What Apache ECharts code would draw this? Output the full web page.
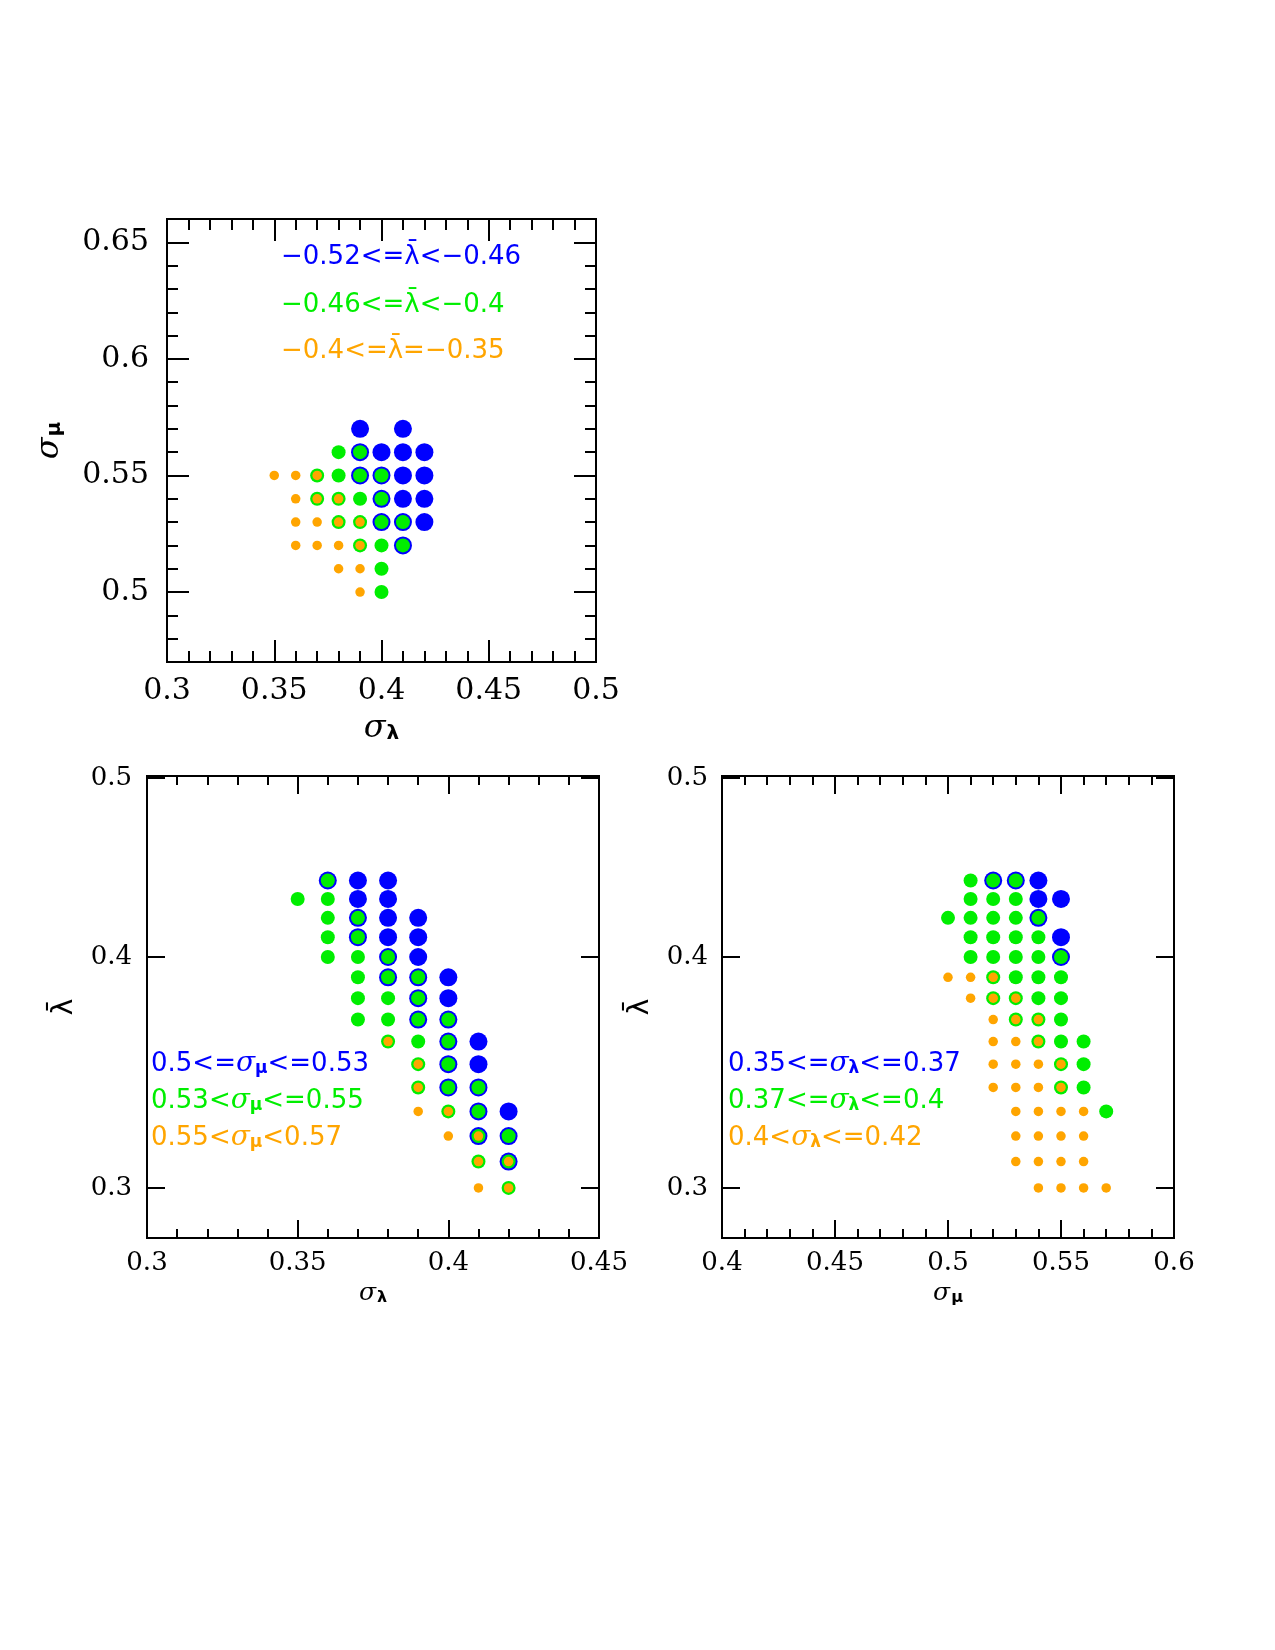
<!DOCTYPE html>
<html>
<head>
<meta charset="utf-8">
<title>sigma_lambda / sigma_mu / lambda-bar</title>
<script src="https://cdn.jsdelivr.net/npm/echarts@6.0.0/dist/echarts.min.js"></script>
<style>
  html, body { margin: 0; padding: 0; background: #fff; }
  #main { width: 1275px; height: 1650px; }
</style>
</head>
<body>
<div id="main"></div>
<script>
// group colours
const BLUE = "#0000ff";
const GREEN = "#00ee00";
const ORANGE = "#ffa500";

// ---- top panel: [sigma_lambda, sigma_mu], split by lambda-bar
const topBlue = [
  [0.39, 0.57], [0.41, 0.57],
  [0.39, 0.56], [0.40, 0.56], [0.41, 0.56], [0.42, 0.56],
  [0.39, 0.55], [0.40, 0.55], [0.41, 0.55], [0.42, 0.55],
  [0.40, 0.54], [0.41, 0.54], [0.42, 0.54],
  [0.40, 0.53], [0.41, 0.53], [0.42, 0.53],
  [0.41, 0.52],
];
const topGreen = [
  [0.38, 0.56], [0.39, 0.56],
  [0.37, 0.55], [0.38, 0.55], [0.39, 0.55], [0.40, 0.55],
  [0.37, 0.54], [0.38, 0.54], [0.39, 0.54], [0.40, 0.54],
  [0.38, 0.53], [0.39, 0.53], [0.40, 0.53], [0.41, 0.53],
  [0.39, 0.52], [0.40, 0.52], [0.41, 0.52],
  [0.40, 0.51],
  [0.40, 0.50],
];
const topOrange = [
  [0.35, 0.55], [0.36, 0.55], [0.37, 0.55],
  [0.36, 0.54], [0.37, 0.54], [0.38, 0.54],
  [0.36, 0.53], [0.37, 0.53], [0.38, 0.53], [0.39, 0.53],
  [0.36, 0.52], [0.37, 0.52], [0.38, 0.52], [0.39, 0.52],
  [0.38, 0.51], [0.39, 0.51],
  [0.39, 0.50],
];

// ---- bottom left: [sigma_lambda, lambda-bar], split by sigma_mu
const leftBlue = [
  [0.36, 0.44], [0.37, 0.44], [0.38, 0.44],
  [0.37, 0.43], [0.38, 0.43],
  [0.37, 0.42], [0.38, 0.42], [0.39, 0.42],
  [0.37, 0.41], [0.38, 0.41], [0.39, 0.41],
  [0.38, 0.40], [0.39, 0.40],
  [0.38, 0.39], [0.39, 0.39], [0.40, 0.39],
  [0.39, 0.38], [0.40, 0.38],
  [0.39, 0.37], [0.40, 0.37],
  [0.40, 0.36], [0.41, 0.36],
  [0.40, 0.35], [0.41, 0.35],
  [0.40, 0.34], [0.41, 0.34],
  [0.41, 0.33], [0.42, 0.33],
  [0.41, 0.32], [0.42, 0.32],
  [0.42, 0.31],
];
const leftGreen = [
  [0.36, 0.44],
  [0.35, 0.43], [0.36, 0.43],
  [0.36, 0.42], [0.37, 0.42],
  [0.36, 0.41], [0.37, 0.41],
  [0.36, 0.40], [0.37, 0.40], [0.38, 0.40],
  [0.37, 0.39], [0.38, 0.39], [0.39, 0.39],
  [0.37, 0.38], [0.38, 0.38], [0.39, 0.38],
  [0.37, 0.37], [0.38, 0.37], [0.39, 0.37], [0.40, 0.37],
  [0.38, 0.36], [0.39, 0.36], [0.40, 0.36],
  [0.39, 0.35], [0.40, 0.35],
  [0.39, 0.34], [0.40, 0.34], [0.41, 0.34],
  [0.40, 0.33], [0.41, 0.33],
  [0.41, 0.32], [0.42, 0.32],
  [0.41, 0.31], [0.42, 0.31],
  [0.42, 0.30],
];
const leftOrange = [
  [0.38, 0.36],
  [0.39, 0.35],
  [0.39, 0.34],
  [0.39, 0.33], [0.40, 0.33],
  [0.40, 0.32], [0.41, 0.32],
  [0.41, 0.31], [0.42, 0.31],
  [0.41, 0.30], [0.42, 0.30],
];

// ---- bottom right: [sigma_mu, lambda-bar], split by sigma_lambda
const rightBlue = [
  [0.52, 0.44], [0.53, 0.44], [0.54, 0.44],
  [0.54, 0.43], [0.55, 0.43],
  [0.54, 0.42],
  [0.55, 0.41],
  [0.55, 0.40],
];
const rightGreen = [
  [0.51, 0.44], [0.52, 0.44], [0.53, 0.44],
  [0.51, 0.43], [0.52, 0.43], [0.53, 0.43],
  [0.50, 0.42], [0.51, 0.42], [0.52, 0.42], [0.53, 0.42], [0.54, 0.42],
  [0.51, 0.41], [0.52, 0.41], [0.53, 0.41], [0.54, 0.41],
  [0.51, 0.40], [0.52, 0.40], [0.53, 0.40], [0.54, 0.40], [0.55, 0.40],
  [0.52, 0.39], [0.53, 0.39], [0.54, 0.39], [0.55, 0.39],
  [0.52, 0.38], [0.53, 0.38], [0.54, 0.38], [0.55, 0.38],
  [0.53, 0.37], [0.54, 0.37], [0.55, 0.37],
  [0.54, 0.36], [0.55, 0.36], [0.56, 0.36],
  [0.55, 0.35], [0.56, 0.35],
  [0.55, 0.34], [0.56, 0.34],
  [0.57, 0.33],
];
const rightOrange = [
  [0.50, 0.39], [0.51, 0.39], [0.52, 0.39],
  [0.51, 0.38], [0.52, 0.38], [0.53, 0.38],
  [0.52, 0.37], [0.53, 0.37], [0.54, 0.37],
  [0.52, 0.36], [0.53, 0.36], [0.54, 0.36],
  [0.52, 0.35], [0.53, 0.35], [0.54, 0.35], [0.55, 0.35],
  [0.52, 0.34], [0.53, 0.34], [0.54, 0.34], [0.55, 0.34],
  [0.53, 0.33], [0.54, 0.33], [0.55, 0.33], [0.56, 0.33],
  [0.53, 0.32], [0.54, 0.32], [0.55, 0.32], [0.56, 0.32],
  [0.53, 0.31], [0.54, 0.31], [0.55, 0.31], [0.56, 0.31],
  [0.54, 0.30], [0.55, 0.30], [0.56, 0.30], [0.57, 0.30],
];

// ---- ticks
const topXTicks = [0.3, 0.35, 0.4, 0.45, 0.5];
const topYTicks = [0.5, 0.55, 0.6, 0.65];
const leftXTicks = [0.3, 0.35, 0.4, 0.45];
const rightXTicks = [0.4, 0.45, 0.5, 0.55, 0.6];
const lamTicks = [0.3, 0.4, 0.5];

// legend lines
const topLegend = ["\u22120.52<=\u03bb\u0304<\u22120.46", "\u22120.46<=\u03bb\u0304<\u22120.4", "\u22120.4<=\u03bb\u0304=\u22120.35"];
const leftLegend = ["0.5<={s|\u03c3}{m|\u03bc}<=0.53", "0.53<{s|\u03c3}{m|\u03bc}<=0.55", "0.55<{s|\u03c3}{m|\u03bc}<0.57"];
const rightLegend = ["0.35<={s|\u03c3}{m|\u03bb}<=0.37", "0.37<={s|\u03c3}{m|\u03bb}<=0.4", "0.4<{s|\u03c3}{m|\u03bb}<=0.42"];
const COLORS = [BLUE, GREEN, ORANGE];

function steps(a, b, d) {
  const out = [];
  for (let v = a; v <= b + 1e-9; v += d) out.push(Math.round(v * 1000) / 1000);
  return out;
}
const fmt = (v) => String(Math.round(v * 1000) / 1000);

const xAxes = [];
const yAxes = [];

// one axis per side and tick length; first one carries labels and name
function addAxes(list, dim, grid, cfg) {
  const first = list.length;
  const sides = dim === "x" ? ["bottom", "top"] : ["left", "right"];
  sides.forEach((pos, s) => {
    const sets = [[cfg.major, cfg.lenMajor]];
    if (cfg.minor) sets.push([cfg.minor, cfg.lenMinor]);
    sets.forEach(([vals, len], k) => {
      const main = s === 0 && k === 0;
      const ax = {
        type: cfg.type || "value",
        gridIndex: grid,
        position: pos,
        min: cfg.min,
        max: cfg.max,
        axisLine: { show: false },
        splitLine: { show: false },
        axisTick: {
          show: true, inside: true, length: len, customValues: vals,
          lineStyle: { color: "#000", width: 2 },
        },
        axisLabel: main
          ? {
              show: true, customValues: cfg.major, formatter: fmt, margin: cfg.margin,
              fontFamily: "DejaVu Serif", fontSize: cfg.fontSize, color: "#000",
            }
          : { show: false },
      };
      if (cfg.type === "log") ax.logBase = 10;
      if (main && cfg.name) {
        ax.name = cfg.name;
        ax.nameLocation = "middle";
        ax.nameGap = cfg.nameGap;
        ax.nameTextStyle = { rich: cfg.rich };
      }
      list.push(ax);
    });
  });
  return first;
}

const titleRich = (big, small, pad) => ({
  s: { fontFamily: "DejaVu Serif", fontStyle: "italic", fontSize: big, color: "#000" },
  b: { fontFamily: "DejaVu Sans", fontWeight: "bold", fontSize: small, color: "#000", padding: [pad, 0, 0, 1] },
  l: { fontFamily: "DejaVu Sans", fontSize: big, color: "#000" },
});

const LAM_MIN = Math.pow(10, -0.55);
const LAM_MAX = Math.pow(10, -0.3);

// grid 0: top
const x0 = addAxes(xAxes, "x", 0, {
  min: 0.3, max: 0.5, major: topXTicks, minor: steps(0.3, 0.5, 0.01),
  lenMajor: 22, lenMinor: 11, fontSize: 30, margin: 14,
  name: "{s|\u03c3}{b|\u03bb}", nameGap: 51, rich: titleRich(32, 20, 9),
});
const y0 = addAxes(yAxes, "y", 0, {
  min: 0.47, max: 0.66, major: topYTicks, minor: steps(0.47, 0.66, 0.01),
  lenMajor: 22, lenMinor: 11, fontSize: 30, margin: 18,
  name: "{s|\u03c3}{b|\u03bc}", nameGap: 101, rich: titleRich(32, 20, 9),
});
// grid 1: bottom left
const x1 = addAxes(xAxes, "x", 1, {
  min: 0.3, max: 0.45, major: leftXTicks, minor: steps(0.3, 0.45, 0.01),
  lenMajor: 18, lenMinor: 9, fontSize: 26, margin: 12,
  name: "{s|\u03c3}{b|\u03bb}", nameGap: 42, rich: titleRich(25, 16, 10),
});
const y1 = addAxes(yAxes, "y", 1, {
  type: "log", min: LAM_MIN, max: LAM_MAX, major: lamTicks,
  lenMajor: 18, fontSize: 26, margin: 15,
  name: "{l|\u03bb\u0304}", nameGap: 68, rich: titleRich(28, 16, 10),
});
// grid 2: bottom right
const x2 = addAxes(xAxes, "x", 2, {
  min: 0.4, max: 0.6, major: rightXTicks, minor: steps(0.4, 0.6, 0.01),
  lenMajor: 18, lenMinor: 9, fontSize: 26, margin: 12,
  name: "{s|\u03c3}{b|\u03bc}", nameGap: 42, rich: titleRich(25, 16, 10),
});
const y2 = addAxes(yAxes, "y", 2, {
  type: "log", min: LAM_MIN, max: LAM_MAX, major: lamTicks,
  lenMajor: 18, fontSize: 26, margin: 14,
  name: "{l|\u03bb\u0304}", nameGap: 67, rich: titleRich(28, 16, 10),
});

function dots(data, color, size, xi, yi) {
  return {
    type: "scatter", data: data, xAxisIndex: xi, yAxisIndex: yi,
    symbol: "circle", symbolSize: size,
    itemStyle: { color: color, opacity: 1 },
    silent: true, animation: false,
  };
}

const SIZES = [18, 14, 9.5];
const series = [
  dots(topBlue, BLUE, SIZES[0], x0, y0),
  dots(topGreen, GREEN, SIZES[1], x0, y0),
  dots(topOrange, ORANGE, SIZES[2], x0, y0),
  dots(leftBlue, BLUE, SIZES[0], x1, y1),
  dots(leftGreen, GREEN, SIZES[1], x1, y1),
  dots(leftOrange, ORANGE, SIZES[2], x1, y1),
  dots(rightBlue, BLUE, SIZES[0], x2, y2),
  dots(rightGreen, GREEN, SIZES[1], x2, y2),
  dots(rightOrange, ORANGE, SIZES[2], x2, y2),
];

const legendRich = {
  s: { fontFamily: "DejaVu Serif", fontStyle: "italic", fontSize: 28 },
  m: { fontFamily: "DejaVu Sans", fontWeight: "bold", fontSize: 17, padding: [9, 0, 0, 0] },
};

const graphic = [];
topLegend.forEach((t, i) => {
  graphic.push({
    type: "text", x: 281, y: [257, 305, 351][i],
    style: { text: t, fill: COLORS[i], font: '26px "DejaVu Sans"', align: "left", verticalAlign: "middle" },
  });
});
[[leftLegend, 151], [rightLegend, 728]].forEach(([lines, x]) => {
  lines.forEach((t, i) => {
    const rich = {};
    Object.keys(legendRich).forEach((k) => { rich[k] = Object.assign({ fill: COLORS[i] }, legendRich[k]); });
    graphic.push({
      type: "text", x: x, y: [1064, 1101, 1138][i],
      style: {
        text: t, fill: COLORS[i], font: '26px "DejaVu Sans"',
        align: "left", verticalAlign: "middle", rich: rich,
      },
    });
  });
});

const grids = [
  { left: 167, top: 219, width: 429, height: 443 },
  { left: 147, top: 776, width: 452, height: 462 },
  { left: 722, top: 776, width: 452, height: 462 },
].map((g) => Object.assign({
  show: true, borderColor: "#000", borderWidth: 2,
  backgroundColor: "transparent", containLabel: false, outerBoundsMode: "none",
}, g));

const chart = echarts.init(document.getElementById("main"), null, { renderer: "canvas" });
chart.setOption({
  backgroundColor: "#fff",
  animation: false,
  grid: grids,
  xAxis: xAxes,
  yAxis: yAxes,
  series: series,
  graphic: graphic,
});
</script>
</body>
</html>
